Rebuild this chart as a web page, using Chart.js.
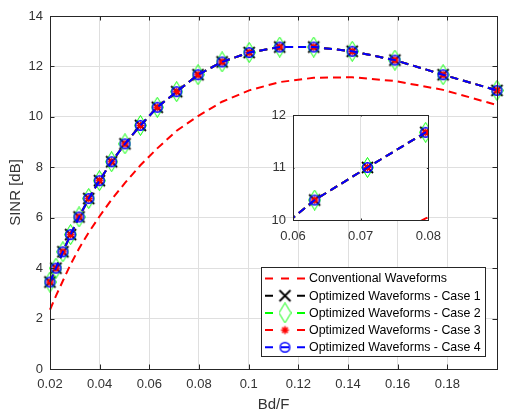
<!DOCTYPE html>
<html><head><meta charset="utf-8">
<script src="https://cdn.jsdelivr.net/npm/chart.js@4/dist/chart.umd.min.js"></script>
<style>
html,body{margin:0;padding:0;background:#fff;}
#wrap{position:relative;width:505px;height:409px;overflow:hidden;}
#main{position:absolute;left:0;top:0;width:505px;height:409px;}
#inset{position:absolute;left:250px;top:100px;width:200px;height:150px;}
</style></head><body>
<div id="wrap"><canvas id="main" width="505" height="409"></canvas><canvas id="inset" width="200" height="150"></canvas></div>
<script>
// ---- data ----
const bdF = [0.02, 0.0224, 0.0252, 0.0283, 0.0317, 0.0356, 0.0399, 0.0448, 0.0502, 0.0564, 0.0632, 0.0710, 0.0796, 0.0893, 0.1002, 0.1125, 0.1262, 0.1417, 0.1589, 0.1783, 0.2];
const conventionalSINR = [2.35, 2.9, 3.5, 4.15, 4.78, 5.42, 6.05, 6.72, 7.38, 8.08, 8.75, 9.45, 10.03, 10.6, 11.05, 11.38, 11.55, 11.57, 11.42, 11.07, 10.47];
const case1SINR = [3.45, 4.0, 4.65, 5.33, 6.03, 6.76, 7.47, 8.22, 8.93, 9.66, 10.38, 11.0, 11.67, 12.18, 12.55, 12.77, 12.77, 12.6, 12.25, 11.67, 11.05];
const case2SINR = [3.45, 4.0, 4.65, 5.33, 6.03, 6.76, 7.47, 8.22, 8.93, 9.66, 10.38, 11.0, 11.67, 12.18, 12.55, 12.77, 12.77, 12.6, 12.25, 11.67, 11.05];
const case3SINR = [3.45, 4.0, 4.65, 5.33, 6.03, 6.76, 7.47, 8.22, 8.93, 9.66, 10.38, 11.0, 11.67, 12.18, 12.55, 12.77, 12.77, 12.6, 12.25, 11.67, 11.05];
const case4SINR = [3.45, 4.0, 4.65, 5.33, 6.03, 6.76, 7.47, 8.22, 8.93, 9.66, 10.38, 11.0, 11.67, 12.18, 12.55, 12.77, 12.77, 12.6, 12.25, 11.67, 11.05];
const seriesNames = ['Conventional Waveforms', 'Optimized Waveforms - Case 1', 'Optimized Waveforms - Case 2', 'Optimized Waveforms - Case 3', 'Optimized Waveforms - Case 4'];
const xTicks = [0.02, 0.04, 0.06, 0.08, 0.1, 0.12, 0.14, 0.16, 0.18];
const yTicks = [0, 2, 4, 6, 8, 10, 12, 14];
const insetXTicks = [0.06, 0.07, 0.08];
const insetYTicks = [10, 11, 12];

const FONT = '"Liberation Sans", Arial, Helvetica, sans-serif';
const AXC = '#262626';
const TXT = '#333333';
const GRID = '#dfdfdf';

// ---- marker images ----
function mk(w, h, fn) { const c = document.createElement('canvas'); c.width = w; c.height = h; const g = c.getContext('2d'); fn(g); return c; }
const mX = mk(15, 15, g => { g.strokeStyle = '#000'; g.lineWidth = 1.8; g.beginPath(); g.moveTo(2, 2); g.lineTo(13, 13); g.moveTo(13, 2); g.lineTo(2, 13); g.stroke(); });
const mD = mk(13, 21, g => { g.strokeStyle = '#00ff00'; g.lineWidth = 1; g.beginPath(); g.moveTo(6.5, 0.5); g.lineTo(12.5, 10.5); g.lineTo(6.5, 20.5); g.lineTo(0.5, 10.5); g.closePath(); g.stroke(); });
const mA = mk(11, 11, g => { g.strokeStyle = '#ff0000'; g.lineWidth = 1.5; g.beginPath(); g.moveTo(1.5, 5.5); g.lineTo(9.5, 5.5); g.moveTo(5.5, 1.5); g.lineTo(5.5, 9.5); g.moveTo(2.7, 2.7); g.lineTo(8.3, 8.3); g.moveTo(8.3, 2.7); g.lineTo(2.7, 8.3); g.stroke(); });
const mO = mk(13, 13, g => { g.strokeStyle = '#0000ff'; g.lineWidth = 1.5; g.beginPath(); g.arc(6.5, 6.5, 4.8, 0, Math.PI * 2); g.stroke(); });

function pts(ys) { return bdF.map((x, i) => ({ x: x, y: ys[i] })); }
function makeDatasets(clip) {
  const base = { showLine: true, borderWidth: 2, borderDash: [8, 5], pointRadius: 6, pointHoverRadius: 6, clip: clip, tension: 0, fill: false };
  return [
    Object.assign({}, base, { label: seriesNames[0], data: pts(conventionalSINR), borderColor: '#ff0000', pointRadius: 0, order: 5 }),
    Object.assign({}, base, { label: seriesNames[1], data: pts(case1SINR), borderColor: '#000000', pointStyle: mX, order: 4 }),
    Object.assign({}, base, { label: seriesNames[2], data: pts(case2SINR), borderColor: '#00ff00', pointStyle: mD, order: 3 }),
    Object.assign({}, base, { label: seriesNames[3], data: pts(case3SINR), borderColor: '#ff0000', pointStyle: mA, order: 2 }),
    Object.assign({}, base, { label: seriesNames[4], data: pts(case4SINR), borderColor: '#0000ff', pointStyle: mO, order: 1 })
  ];
}

function boxPlugin(tickLen) {
  return {
    id: 'box',
    beforeDraw(chart) {
      const a = chart.chartArea, ctx = chart.ctx;
      ctx.save(); ctx.fillStyle = '#fff'; ctx.fillRect(a.left, a.top, a.right - a.left, a.bottom - a.top); ctx.restore();
    },
    afterDatasetsDraw(chart) {
      const a = chart.chartArea, ctx = chart.ctx;
      const xs = chart.scales.x, ys = chart.scales.y;
      ctx.save();
      ctx.strokeStyle = AXC; ctx.lineWidth = 1; ctx.setLineDash([]);
      ctx.beginPath();
      xs.ticks.forEach(t => { const p = Math.round(xs.getPixelForValue(t.value)) + 0.5; ctx.moveTo(p, a.bottom); ctx.lineTo(p, a.bottom - tickLen); ctx.moveTo(p, a.top); ctx.lineTo(p, a.top + tickLen); });
      ys.ticks.forEach(t => { const p = Math.round(ys.getPixelForValue(t.value)) + 0.5; ctx.moveTo(a.left, p); ctx.lineTo(a.left + tickLen, p); ctx.moveTo(a.right, p); ctx.lineTo(a.right - tickLen, p); });
      ctx.stroke();
      ctx.strokeRect(Math.round(a.left) + 0.5, Math.round(a.top) + 0.5, Math.round(a.right - a.left), Math.round(a.bottom - a.top));
      ctx.restore();
    }
  };
}

const legendPlugin = {
  id: 'mlegend',
  afterDraw(chart) {
    const ctx = chart.ctx;
    const x0 = 261.5, y0 = 267.5, w = 224, h = 89;
    ctx.save();
    ctx.fillStyle = '#fff'; ctx.fillRect(x0, y0, w, h);
    ctx.strokeStyle = AXC; ctx.lineWidth = 1; ctx.strokeRect(x0, y0, w, h);
    const marks = [null, mX, mD, mA, mO];
    chart.data.datasets.forEach((ds, i) => {
      const cy = 278.5 + i * 17.2;
      ctx.strokeStyle = ds.borderColor; ctx.lineWidth = 2; ctx.setLineDash([]);
      const segs = i === 0 ? [[265, 273], [281, 289], [297, 305]] : [[265, 273], [297, 305]];
      ctx.beginPath();
      segs.forEach(s => { ctx.moveTo(s[0], cy); ctx.lineTo(s[1], cy); });
      if (i === 4) { ctx.moveTo(281, cy); ctx.lineTo(289, cy); }
      ctx.stroke();
      if (marks[i]) { const m = marks[i]; ctx.drawImage(m, 285 - m.width / 2, cy - m.height / 2); }
      ctx.fillStyle = '#000'; ctx.font = '12.4px ' + FONT; ctx.textBaseline = 'middle'; ctx.textAlign = 'left';
      ctx.fillText(seriesNames[i], 309, cy + 0.5);
    });
    ctx.restore();
  }
};

function fmt(v) { return String(v); }

new Chart(document.getElementById('main'), {
  type: 'scatter',
  data: { datasets: makeDatasets(false) },
  options: {
    responsive: false, animation: false, events: [],
    layout: { padding: { top: 16, right: 8, left: 0, bottom: 0 } },
    plugins: { legend: { display: false }, tooltip: { enabled: false } },
    scales: {
      x: {
        type: 'linear', min: 0.02, max: 0.2,
        afterBuildTicks: s => { s.ticks = xTicks.map(v => ({ value: v })); },
        afterFit: s => { s.height = 40; },
        ticks: { callback: fmt, color: TXT, font: { family: FONT, size: 13 }, padding: 8, maxRotation: 0, autoSkip: false },
        grid: { color: GRID, lineWidth: 1, drawTicks: false, tickLength: 0 },
        border: { display: false },
        title: { display: true, text: 'Bd/F', color: TXT, font: { family: FONT, size: 15 }, padding: { top: 0, bottom: -5 } }
      },
      y: {
        type: 'linear', min: 0, max: 14,
        afterBuildTicks: s => { s.ticks = yTicks.map(v => ({ value: v })); },
        afterFit: s => { s.width = 50; },
        ticks: { callback: fmt, color: TXT, font: { family: FONT, size: 13 }, padding: 7, autoSkip: false },
        grid: { color: GRID, lineWidth: 1, drawTicks: false, tickLength: 0 },
        border: { display: false },
        title: { display: true, text: 'SINR [dB]', color: TXT, font: { family: FONT, size: 15 }, padding: { top: 7, bottom: 0 } }
      }
    }
  },
  plugins: [boxPlugin(4.5), legendPlugin]
});

new Chart(document.getElementById('inset'), {
  type: 'scatter',
  data: { datasets: makeDatasets(true) },
  options: {
    responsive: false, animation: false, events: [],
    layout: { padding: { top: 15, right: 11, left: 0, bottom: 0 } },
    plugins: { legend: { display: false }, tooltip: { enabled: false } },
    scales: {
      x: {
        type: 'linear', min: 0.06, max: 0.08,
        afterBuildTicks: s => { s.ticks = insetXTicks.map(v => ({ value: v })); },
        afterFit: s => { s.height = 30; },
        ticks: { callback: fmt, color: TXT, font: { family: FONT, size: 13 }, padding: 9, maxRotation: 0, autoSkip: false },
        grid: { color: GRID, lineWidth: 1, drawTicks: false, tickLength: 0 },
        border: { display: false }
      },
      y: {
        type: 'linear', min: 10, max: 12,
        afterBuildTicks: s => { s.ticks = insetYTicks.map(v => ({ value: v })); },
        afterFit: s => { s.width = 43; },
        ticks: { callback: fmt, color: TXT, font: { family: FONT, size: 13 }, padding: 7, autoSkip: false },
        grid: { color: GRID, lineWidth: 1, drawTicks: false, tickLength: 0 },
        border: { display: false }
      }
    }
  },
  plugins: [boxPlugin(1.5)]
});
</script>
</body></html>
